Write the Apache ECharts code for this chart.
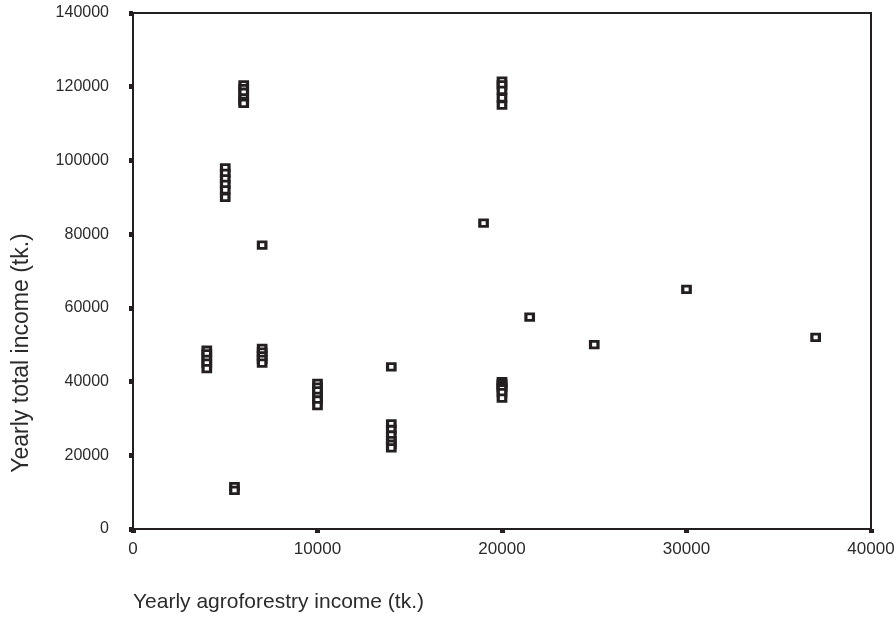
<!DOCTYPE html>
<html>
<head>
<meta charset="utf-8">
<script src="https://cdn.jsdelivr.net/npm/echarts@6/dist/echarts.min.js"></script>
<style>
html,body{margin:0;padding:0;background:#fff;}
#chart{width:896px;height:622px;}
</style>
</head>
<body>
<div id="chart"></div>
<script>
// Yearly agroforestry income (tk.) for each household
const agroIncome = [
  6000, 6000, 6000, 6000, 6000, 6000,
  5000, 5000, 5000, 5000, 5000, 5000,
  7000,
  4000, 4000, 4000, 4000, 4000,
  7000, 7000, 7000, 7000, 7000,
  5500, 5500,
  10000, 10000, 10000, 10000, 10000, 10000,
  14000,
  14000, 14000, 14000, 14000, 14000, 14000,
  19000,
  20000, 20000, 20000, 20000, 20000,
  20000, 20000, 20000, 20000, 20000, 20000, 20000,
  21500, 25000, 30000, 37000
];
// Yearly total income (tk.) for each household
const totalIncome = [
  120500, 119500, 118500, 117000, 116000, 115500,
  98000, 96500, 95000, 93500, 92000, 90000,
  77000,
  48500, 47500, 46000, 45000, 43500,
  49000, 48000, 47000, 46000, 45000,
  11500, 10500,
  39500, 38500, 37500, 36000, 35000, 33500,
  44000,
  28500, 27000, 25500, 24000, 23000, 22000,
  83000,
  121500, 120500, 119000, 117000, 115000,
  40000, 39500, 39000, 38500, 38000, 37000, 35500,
  57500, 50000, 65000, 52000
];
const xTicks = [0, 10000, 20000, 30000, 40000];
const yTicks = [0, 20000, 40000, 60000, 80000, 100000, 120000, 140000];
const xTitle = 'Yearly agroforestry income (tk.)';
const yTitle = 'Yearly total income (tk.)';

const points = agroIncome.map((x, i) => [x, totalIncome[i]]);
const ink = '#231f20';
const txt = '#2b2b2b';
const font = '"Liberation Sans", Arial, sans-serif';

const chart = echarts.init(document.getElementById('chart'), null, {renderer: 'canvas'});
chart.setOption({
  animation: false,
  backgroundColor: '#ffffff',
  grid: {left: 133, right: 25, top: 13, bottom: 93, show: true,
         containLabel: false, outerBoundsMode: 'none',
         borderColor: ink, borderWidth: 2, backgroundColor: 'transparent'},
  xAxis: {
    type: 'value', min: xTicks[0], max: xTicks[xTicks.length - 1],
    interval: xTicks[1] - xTicks[0],
    axisLine: {show: true, lineStyle: {color: ink, width: 2}},
    axisTick: {show: true, inside: false, length: 4, lineStyle: {color: ink, width: 5}},
    splitLine: {show: false},
    axisLabel: {color: txt, fontSize: 17, fontFamily: font, margin: 12,
                formatter: v => String(v)}
  },
  yAxis: {
    type: 'value', min: yTicks[0], max: yTicks[yTicks.length - 1],
    interval: yTicks[1] - yTicks[0],
    axisLine: {show: true, lineStyle: {color: ink, width: 2}},
    axisTick: {show: true, inside: false, length: 4, lineStyle: {color: ink, width: 5}},
    splitLine: {show: false},
    axisLabel: {color: txt, fontSize: 16, fontFamily: font, margin: 24,
                formatter: v => String(v)}
  },
  graphic: [
    {type: 'text', left: 133, top: 592,
     style: {text: xTitle, fill: txt, font: '21px ' + font}},
    {type: 'text', x: 10, y: 353, rotation: Math.PI / 2,
     style: {text: yTitle, fill: txt, font: '23px ' + font, align: 'center', verticalAlign: 'top'}}
  ],
  series: [{
    type: 'scatter',
    data: points,
    symbol: 'rect',
    symbolSize: [7.5, 6.5],
    itemStyle: {color: '#ffffff', borderColor: ink, borderWidth: 3, opacity: 1},
    emphasis: {disabled: true}
  }]
});
</script>
</body>
</html>
